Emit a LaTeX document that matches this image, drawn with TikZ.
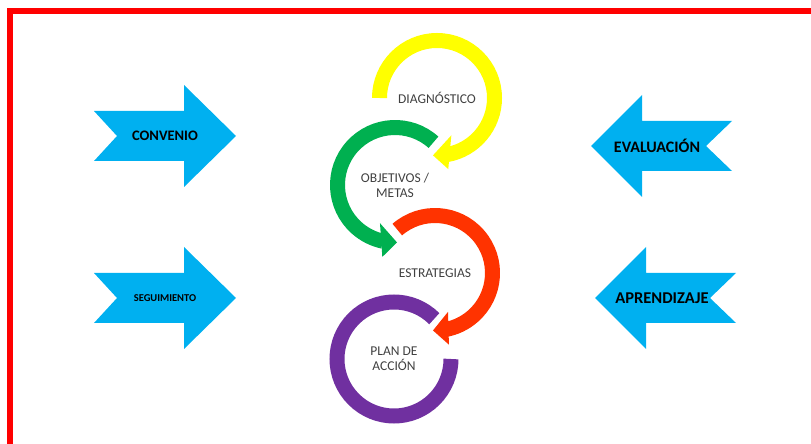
\documentclass[tikz,border=0pt]{standalone}
\usepackage{fontspec}
\setmainfont{Carlito}
\usetikzlibrary{calc}

\definecolor{ringyellow}{HTML}{FFFF00}
\definecolor{ringgreen}{HTML}{00B050}
\definecolor{ringred}{HTML}{FF3300}
\definecolor{ringpurple}{HTML}{7030A0}
\definecolor{arrowblue}{HTML}{00B0F0}
\definecolor{labelgray}{HTML}{404040}

\tikzset{
    ring/.style={line width=15pt},
    ringlabel/.style={align=center, text=labelgray,
        font=\fontsize{13.5}{15}\selectfont},
    bluelabel/.style={text=black, font=\bfseries},
    bluearrow/.style={fill=arrowblue},
    frame/.style={draw=red, line width=6pt}
}

\begin{document}
\begin{tikzpicture}[x=1pt, y=1pt]
\useasboundingbox (0,0) rectangle (811,444);
\clip (0,0) rectangle (811,444);

% frame
\draw[frame] (10,-10) -- (10,433) -- (830,433);

% cycle in the middle
\node[ringlabel] (diag) at (437,346) {DIAGNÓSTICO};
\node[ringlabel] (obj) at (395,259) {OBJETIVOS /\\METAS};
\node[ringlabel] (estr) at (435,171) {ESTRATEGIAS};
\node[ringlabel] (plan) at (394,85) {PLAN DE\\ACCIÓN};

\draw[ring, ringyellow]
    ($(diag.center)+(180:57.5)$) arc[start angle=180, end angle=-80, radius=57.5];
\fill[ringyellow]
    ($(diag.center)+(-69:40)$) -- ($(diag.center)+(-94:57.5)$) -- ($(diag.center)+(-81:72)$) -- cycle;

\draw[ring, ringgreen]
    ($(obj.center)+(48:57.5)$) arc[start angle=48, end angle=258, radius=57.5];
\fill[ringgreen]
    ($(obj.center)+(248.5:41)$) -- ($(obj.center)+(272:57.5)$) -- ($(obj.center)+(260:73)$) -- cycle;

\draw[ring, ringred]
    ($(estr.center)+(131:57.5)$) arc[start angle=131, end angle=-80, radius=57.5];
\fill[ringred]
    ($(estr.center)+(-71.5:41)$) -- ($(estr.center)+(-92:57.5)$) -- ($(estr.center)+(-79:73)$) -- cycle;

\draw[ring, ringpurple]
    ($(plan.center)+(45:57)$) arc[start angle=45, end angle=360, radius=57];

% blue arrows
\coordinate (convpos) at (165,308);
\coordinate (seguipos) at (165,146);
\coordinate (evalpos) at (661,298);
\coordinate (aprenpos) at (665,146);

\fill[bluearrow] (convpos) ++(-71,25) -- ++(90,0) -- ++(0,26) -- ++(52,-51)
    -- ++(-52,-51) -- ++(0,26) -- ++(-90,0) -- ++(23,25) -- cycle;
\fill[bluearrow] (seguipos) ++(-71,25) -- ++(90,0) -- ++(0,26) -- ++(52,-51)
    -- ++(-52,-51) -- ++(0,26) -- ++(-90,0) -- ++(23,25) -- cycle;
\fill[bluearrow] (evalpos) ++(71,25) -- ++(-90,0) -- ++(0,26) -- ++(-51,-51)
    -- ++(51,-51) -- ++(0,26) -- ++(90,0) -- ++(-26,25) -- cycle;
\fill[bluearrow] (aprenpos) ++(71,25) -- ++(-90,0) -- ++(0,26) -- ++(-51,-51)
    -- ++(51,-51) -- ++(0,26) -- ++(90,0) -- ++(-26,25) -- cycle;

\node[bluelabel, font=\bfseries\fontsize{14.5}{16}\selectfont] (conv) at (convpos) {CONVENIO};
\node[bluelabel, font=\bfseries\fontsize{10.5}{12}\selectfont] (segui) at (seguipos) {SEGUIMIENTO};
\node[bluelabel, font=\bfseries\fontsize{16}{18}\selectfont] (eval) at ($(evalpos)+(-4,0)$) {EVALUACIÓN};
\node[bluelabel, font=\bfseries\fontsize{16.5}{18}\selectfont] (apren) at ($(aprenpos)+(-3,0)$) {APRENDIZAJE};

\end{tikzpicture}
\end{document}
